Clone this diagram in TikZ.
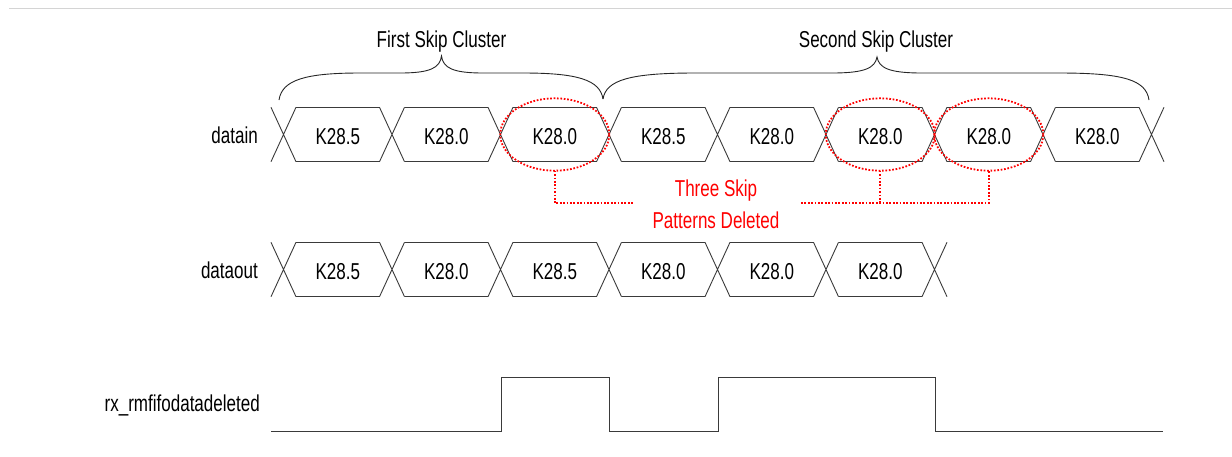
\documentclass[tikz,border=0pt]{standalone}
\usepackage{fontspec}
\setmainfont{Liberation Sans}[FakeStretch=0.74]
\definecolor{wire}{HTML}{3A3A3A}
\definecolor{skipred}{HTML}{FF0000}
\definecolor{rule}{HTML}{D4D4D4}
\begin{document}
\begin{tikzpicture}[x=1pt,y=-1pt,
  font=\fontsize{23}{27}\selectfont,
  bus/.style={draw=wire,line width=0.9pt},
  wave/.style={draw=wire,line width=1pt},
  brace/.style={draw=black!85,line width=0.9pt},
  skip/.style={draw=skipred,line width=1.8pt,dash pattern=on 1.7pt off 1.7pt},
  lbl/.style={inner sep=0pt,anchor=base},
  sig/.style={inner sep=0pt,anchor=base east},
  redtxt/.style={inner sep=0pt,anchor=base,text=skipred}]
\useasboundingbox (0,0) rectangle (1232,456);
\draw[draw=rule,line width=1.4pt] (9,8.3) -- (1232,8.3);
\def\h{12.5}
% ---------- datain bus ----------
\foreach \x in {283.5,392,500.5,609,717.5,826,934.5,1043,1151.5}{
  \draw[bus] (\x-\h,107.3) -- (\x+\h,161.7) (\x-\h,161.7) -- (\x+\h,107.3);
}
\foreach \a/\b/\t [count=\i] in {283.5/392/K28.5,392/500.5/K28.0,500.5/609/K28.0,609/717.5/K28.5,717.5/826/K28.0,826/934.5/K28.0,934.5/1043/K28.0,1043/1151.5/K28.0}{
  \draw[bus] (\a+\h,107.3) -- (\b-\h,107.3) (\a+\h,161.7) -- (\b-\h,161.7);
  \node[lbl] (din\i) at ({(\a+\b)/2},144) {\t};
}
% ---------- dataout bus ----------
\foreach \x in {283.5,392,500.5,609,717.5,826,934.5}{
  \draw[bus] (\x-\h,242.3) -- (\x+\h,296.7) (\x-\h,296.7) -- (\x+\h,242.3);
}
\foreach \a/\b/\t [count=\i] in {283.5/392/K28.5,392/500.5/K28.0,500.5/609/K28.5,609/717.5/K28.0,717.5/826/K28.0,826/934.5/K28.0}{
  \draw[bus] (\a+\h,242.3) -- (\b-\h,242.3) (\a+\h,296.7) -- (\b-\h,296.7);
  \node[lbl] (dout\i) at ({(\a+\b)/2},279) {\t};
}
% ---------- signal names ----------
\node[sig] (ndin) at (258,143) {datain};
\node[sig] (ndout) at (258,278) {dataout};
\node[sig] (nrx) at (260,411) {rx\_rmfifodatadeleted};
% ---------- rx_rmfifodatadeleted waveform ----------
\draw[wave] (271,431.5) -- (501.5,431.5) -- (501.5,377) -- (609.5,377) -- (609.5,431.5)
  -- (718,431.5) -- (718,377) -- (935,377) -- (935,431.5) -- (1163,431.5);
% ---------- braces ----------
\coordinate (b1l) at (279,100);
\coordinate (b1t) at (441.5,56);
\coordinate (b1r) at (603,99);
\coordinate (b2l) at (603,99);
\coordinate (b2t) at (877,57);
\coordinate (b2r) at (1149,100);
\draw[brace] (b1l) .. controls (282,80) and (305,73) .. (360,73) -- (400,73)
  .. controls (430,73) and (440,68) .. (b1t)
  .. controls (443,68) and (453,73) .. (483,73) -- (523,73)
  .. controls (578,73) and (600,80) .. (b1r);
\draw[brace] (b2l) .. controls (606,80) and (630,73) .. (695,73) -- (832,73)
  .. controls (865,73) and (875,68) .. (b2t)
  .. controls (879,68) and (889,73) .. (922,73) -- (1059,73)
  .. controls (1124,73) and (1146,80) .. (b2r);
\node[lbl] (c1) at (441.5,47) {First Skip Cluster};
\node[lbl] (c2) at (876,47) {Second Skip Cluster};
% ---------- deleted skip patterns ----------
\draw[skip] (din3.center |- 0,134.5) ellipse [x radius=54.5pt, y radius=36.2pt];
\draw[skip] (din6.center |- 0,134.5) ellipse [x radius=54.5pt, y radius=36.2pt];
\draw[skip] (din7.center |- 0,134.5) ellipse [x radius=54.5pt, y radius=36.2pt];
\coordinate (e3b) at (554.75,170.7);
\coordinate (e6b) at (880.25,170.7);
\coordinate (e7b) at (988.75,170.7);
\coordinate (gl) at (633,203);
\coordinate (gr) at (801,203);
\draw[skip] (e3b) |- (gl);
\draw[skip] (gr) -| (e7b);
\draw[skip] (e6b) -- (e6b |- gr);
\node[redtxt] (del1) at (716,196.7) {Three Skip};
\node[redtxt] (del2) at (716,228.5) {Patterns Deleted};
\end{tikzpicture}
\end{document}
